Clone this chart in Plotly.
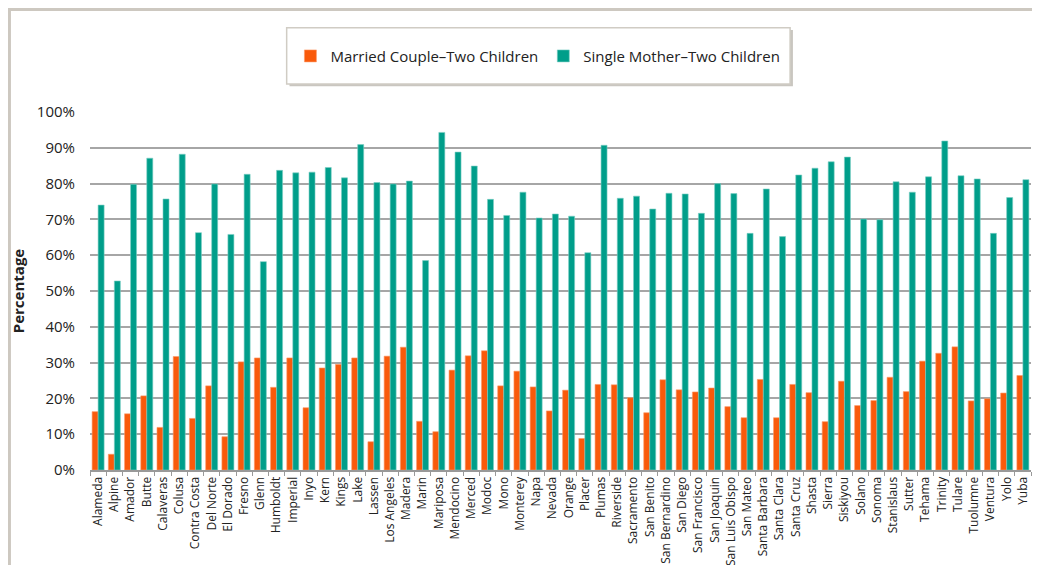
import plotly.graph_objects as go

counties = [
    "Alameda", "Alpine", "Amador", "Butte", "Calaveras", "Colusa", "Contra Costa",
    "Del Norte", "El Dorado", "Fresno", "Glenn", "Humboldt", "Imperial", "Inyo",
    "Kern", "Kings", "Lake", "Lassen", "Los Angeles", "Madera", "Marin", "Mariposa",
    "Mendocino", "Merced", "Modoc", "Mono", "Monterey", "Napa", "Nevada", "Orange",
    "Placer", "Plumas", "Riverside", "Sacramento", "San Benito", "San Bernardino",
    "San Diego", "San Francisco", "San Joaquin", "San Luis Obispo", "San Mateo",
    "Santa Barbara", "Santa Clara", "Santa Cruz", "Shasta", "Sierra", "Siskiyou",
    "Solano", "Sonoma", "Stanislaus", "Sutter", "Tehama", "Trinity", "Tulare",
    "Tuolumne", "Ventura", "Yolo", "Yuba",
]

married_two_children = [
    16.3, 4.4, 15.7, 20.7, 11.9, 31.7, 14.4, 23.5, 9.3, 30.2, 31.3, 23.1, 31.3, 17.4,
    28.5, 29.5, 31.3, 7.9, 31.8, 34.3, 13.6, 10.7, 27.9, 31.9, 33.3, 23.5, 27.6, 23.2,
    16.5, 22.3, 8.8, 23.9, 23.8, 20.2, 16.0, 25.2, 22.4, 21.8, 22.9, 17.7, 14.6, 25.3,
    14.6, 23.9, 21.6, 13.5, 24.8, 18.0, 19.4, 25.9, 21.9, 30.4, 32.6, 34.4, 19.3, 19.9,
    21.5, 26.4,
]

single_mother_two_children = [
    74.0, 52.8, 79.8, 87.1, 75.7, 88.2, 66.3, 79.9, 65.8, 82.6, 58.2, 83.7, 83.0, 83.2,
    84.5, 81.6, 90.9, 80.3, 79.9, 80.7, 58.5, 94.3, 88.8, 84.9, 75.6, 71.1, 77.6, 70.4,
    71.5, 70.9, 60.7, 90.7, 75.9, 76.5, 72.9, 77.3, 77.1, 71.7, 80.0, 77.2, 66.1, 78.5,
    65.2, 82.4, 84.3, 86.1, 87.4, 70.1, 69.9, 80.5, 77.6, 81.9, 91.9, 82.2, 81.3, 66.1,
    76.1, 81.1,
]

y_ticks = [0, 10, 20, 30, 40, 50, 60, 70, 80, 90, 100]
y_tick_labels = [f"{v}%" for v in y_ticks]

ORANGE = "#F95A0B"
TEAL = "#009E8A"
FONT = "Open Sans"

fig = go.Figure()

# MARRIED COUPLE
fig.add_trace(
    go.Bar(
        x=counties,
        y=married_two_children,
        name="Married Couple\u2013Two Children",
        marker=dict(color=ORANGE, line=dict(color="#FB9A6A", width=0.6))
    )
)

# SINGLE MOTHER
fig.add_trace(
    go.Bar(
        x=counties,
        y=single_mother_two_children,
        name="Single Mother\u2013Two Children",
        marker=dict(color=TEAL, line=dict(color="#7CCFC4", width=0.6))
    )
)

# outer frame + legend box with shadow
fig.add_shape(type="rect", xref="paper", yref="paper",
              x0=-0.0856, x1=1.05, y0=-0.6, y1=1.286,
              line=dict(color="#CDC8C0", width=3), layer="below")
fig.add_shape(type="rect", xref="paper", yref="paper",
              x0=0.212, x1=0.747, y0=1.072, y1=1.229,
              line=dict(width=0), fillcolor="#C9C6C0", layer="below")
fig.add_shape(type="rect", xref="paper", yref="paper",
              x0=0.209, x1=0.744, y0=1.078, y1=1.235,
              line=dict(color="#D0CCC4", width=1.5), fillcolor="white", layer="below")

fig.update_layout(
    width=1024,
    height=557,
    barmode="group",
    bargap=0.26,
    bargroupgap=0,
    plot_bgcolor="white",
    paper_bgcolor="white",
    margin=dict(l=82, r=1, t=104, b=95),
    font=dict(family=FONT, color="#222222"),
    showlegend=True,
    legend=dict(
        orientation="h",
        x=0.476,
        xanchor="center",
        y=1.156,
        yanchor="middle",
        bgcolor="rgba(0,0,0,0)",
        font=dict(size=15, family=FONT, color="#222222"),
        itemwidth=30,
    ),
    xaxis=dict(
        tickangle=-90,
        tickfont=dict(size=12),
        showline=True,
        linecolor="#999999",
        linewidth=2,
        ticks="outside",
        tickson="boundaries",
        ticklen=4,
        tickcolor="#999999",
        showgrid=False,
        automargin=False,
    ),
    yaxis=dict(
        range=[0, 100],
        tickmode="array",
        tickvals=y_ticks,
        ticktext=y_tick_labels,
        tickfont=dict(size=15),
        showgrid=True,
        gridcolor="#A6A6A6",
        gridwidth=2,
        zeroline=False,
        ticks="",
        ticklabelstandoff=14,
        automargin=False,
        title=dict(text="<b>Percentage</b>", font=dict(size=15), standoff=14),
    ),
)

fig.write_html("out.html")
